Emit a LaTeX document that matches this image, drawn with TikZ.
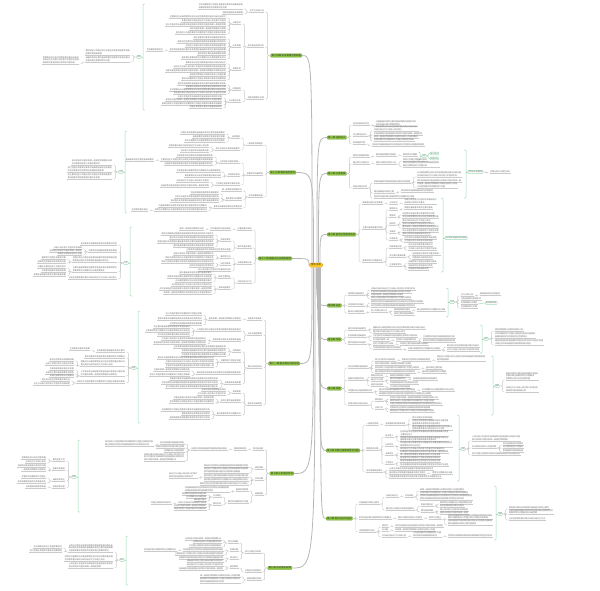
\documentclass[tikz,border=0pt]{standalone}
\usepackage{fontspec}
\usepackage{xstring}
\newfontfamily\cjk{Noto Sans CJK SC}
\definecolor{mmgreen}{HTML}{8CC63F}
\definecolor{mmyellow}{HTML}{FFCC1A}
\definecolor{mmorange}{HTML}{F2A01E}
\definecolor{mmmint}{HTML}{9FDDB7}
\definecolor{mmline}{HTML}{CACACA}
\definecolor{mmtext}{HTML}{6A6A6A}
\newcount\phk \newcount\pha \newcount\phb
\newcommand{\pool}{基本概念主要特征定义范围分类方法相互关系影响因素作用机制发展过程历史背景理论基础基本原则主要内容具体要求适用条件实施步骤注意事项常见问题解决办法典型案例比较分析区别联系重点难点归纳总结记忆方法核心观点意义价值评价标准结构功能组成部分表现形式基本规律一般规定特殊情形法律责任权利义务程序要求时间期限效力范围主体客体对象条件结果原因目的任务职能地位性质特点原理规则制度体系框架模式类型层次阶段环节途径手段措施方案计划组织管理控制协调监督检查考核评估反馈改进完善提高}
\newcommand{\ph}[1]{\global\advance\phk by 17\relax
  \ifnum\phk>180\relax\global\advance\phk by -179\relax\fi
  \pha=\phk\relax\phb=\numexpr\phk+#1-1\relax
  \StrMid{\pool}{\the\pha}{\the\phb}}
\newcommand{\tl}[4]{\path (#1) ++(-6,0) coordinate (tmp);
  \node[tp,anchor=south east] (#2) at (tmp |- 0,#3) {#4};
  \draw[ul] (#2.south west) -- (#2.south east);
  \draw[ln] (#1) -- ++(-3,0) |- (#2.south east);}
\newcommand{\tr}[4]{\path (#1) ++(6,0) coordinate (tmp);
  \node[tp,anchor=south west] (#2) at (tmp |- 0,#3) {#4};
  \draw[ul] (#2.south west) -- (#2.south east);
  \draw[ln] (#1) -- ++(3,0) |- (#2.south west);}
\newcommand{\brl}[5]{\draw[sumln] (#1+2,#2) -- (#1,#2) -- (#1,#3) -- (#1+2,#3);
  \coordinate (#5) at (#1,#4);}
\newcommand{\brr}[5]{\draw[sumln] (#1-2,#2) -- (#1,#2) -- (#1,#3) -- (#1-2,#3);
  \coordinate (#5) at (#1,#4);}

\begin{document}
\begin{tikzpicture}[x=1pt,y=-1pt,
  root/.style={fill=mmyellow,draw=mmorange,line width=0.5pt,rounded corners=1.5pt,inner xsep=1.5pt,inner ysep=0.8pt,text=black!80,font=\cjk\fontsize{2.6}{3}\selectfont},
  chap/.style={fill=mmgreen,draw=mmgreen!80!black,line width=0.2pt,rounded corners=0.8pt,inner xsep=1pt,inner ysep=0.6pt,text=black!80,font=\cjk\fontsize{2.4}{2.8}\selectfont},
  tp/.style={inner xsep=0.3pt,inner ysep=0.4pt,align=left,text=mmtext,font=\cjk\fontsize{2}{2.5}\selectfont},
  ln/.style={draw=mmline,line width=0.45pt,rounded corners=1.2pt},
  ul/.style={draw=mmline,line width=0.45pt},
  trunk/.style={draw=black!28,line width=0.8pt},
  sumbox/.style={draw=mmmint,fill=white,line width=0.4pt,rounded corners=0.8pt,inner sep=0.6pt,text=mmtext,font=\cjk\fontsize{1.8}{2.2}\selectfont},
  sumln/.style={draw=mmmint,line width=0.5pt,rounded corners=1pt}]
\useasboundingbox (0,0) rectangle (600,590);
\fill[white] (0,0) rectangle (600,590);

\node[root] (root) at (316,265) {\ph{4}};
\node[chap,anchor=east] (ch14) at (302,55.5) {第十四章 \ph{8}};
\node[chap,anchor=east] (ch13) at (296,172.5) {第十三章 \ph{6}};
\node[chap,anchor=east] (ch12) at (292,258.5) {第十二章 \ph{9}};
\node[chap,anchor=east] (ch11) at (300,363.5) {第十一章 \ph{8}};
\node[chap,anchor=east] (ch10) at (294,473.5) {第十章 \ph{6}};
\node[chap,anchor=east] (ch9) at (292,568) {第九章 \ph{6}};
\node[chap,anchor=west] (ch1) at (327,137.5) {第一章 \ph{4}};
\node[chap,anchor=west] (ch2) at (327,173.5) {第二章 \ph{4}};
\node[chap,anchor=west] (ch3) at (327,234.5) {第三章 \ph{8}};
\node[chap,anchor=west] (ch4) at (327,305.5) {第四章 \ph{2}};
\node[chap,anchor=west] (ch5) at (327,339.5) {第五章 \ph{2}};
\node[chap,anchor=west] (ch6) at (327,388.5) {第六章 \ph{2}};
\node[chap,anchor=west] (ch7) at (326,450.5) {第七章 \ph{10}};
\node[chap,anchor=west] (ch8) at (326,518.5) {第八章 \ph{7}};

\coordinate (t14) at ([xshift=-4]root.north);
\coordinate (t13) at ([xshift=-2.5]root.north);
\coordinate (t12) at (root.west);
\coordinate (t11) at ([xshift=-4]root.south);
\coordinate (t10) at ([xshift=-2.5]root.south);
\coordinate (t9) at ([xshift=-1]root.south);
\coordinate (t1) at ([xshift=1]root.north);
\coordinate (t2) at ([xshift=2.5]root.north);
\coordinate (t3) at ([xshift=4]root.north);
\coordinate (t4) at ([xshift=0.5]root.south);
\coordinate (t5) at ([xshift=1.5]root.south);
\coordinate (t6) at ([xshift=2.5]root.south);
\coordinate (t7) at ([xshift=3.5]root.south);
\coordinate (t8) at ([xshift=4.5]root.south);
\foreach \c/\s in {ch14/t14,ch13/t13,ch12/t12,ch11/t11,ch10/t10,ch9/t9}
  \draw[trunk] (\s) .. controls (\s |- \c.east) .. (\c.east);
\foreach \c/\s in {ch1/t1,ch2/t2,ch3/t3,ch4/t4,ch5/t5,ch6/t6,ch7/t7,ch8/t8}
  \draw[trunk] (\s) .. controls (\s |- \c.west) .. (\c.west);

% chapter 14
\tl{ch14.west}{d14a}{12}{\ph{7}}
\tl{ch14.west}{d14b}{47}{\ph{8}}
\tl{ch14.west}{d14c}{99}{\ph{8}}
\tl{d14a.south west}{d14a1}{9}{\ph{22}\\\ph{14}}
\tl{d14a.south west}{d14a2}{14}{\ph{10}}
\tl{d14b.south west}{d14b1}{24}{\ph{4}}
\tl{d14b.south west}{d14b2}{47}{\ph{4}}
\tl{d14b.south west}{d14b3}{70}{\ph{4}}
\foreach \y/\n [count=\k] in {18/28,22/22,26/30,30/18,34/25}
  {\tl{d14b1.south west}{d14b1-\k}{\y}{\ph{\n}}}
\foreach \y/\n [count=\k] in {39/16,43/24,47/20,51/28,55/14,59/22}
  {\tl{d14b2.south west}{d14b2-\k}{\y}{\ph{\n}}}
\foreach \y/\n [count=\k] in {64/20,68/26,72/30,76/18,80/22}
  {\tl{d14b3.south west}{d14b3-\k}{\y}{\ph{\n}}}
\tl{d14b2-4.south west}{d14b4}{51}{\ph{8}}
\tl{d14c.south west}{d14c1}{90}{\ph{4}}
\tl{d14c.south west}{d14c2}{102}{\ph{6}}
\foreach \y/\n [count=\k] in {85/24,88/20,91/28,94/26}
  {\tl{d14c1.south west}{d14c1-\k}{\y}{\ph{\n}}}
\foreach \y/\n [count=\k] in {98/22,101/28,105/30,108/16}
  {\tl{d14c2.south west}{d14c2-\k}{\y}{\ph{\n}}}
\brl{143}{4}{110}{57}{m14}
\node[sumbox,anchor=east] (s14) at ([xshift=-1.5]m14) {\ph{2}};
\draw[sumln] (m14) -- (s14.east);
\tl{s14.west}{s14a}{55}{\ph{22}\\\ph{8}}
\tl{s14.west}{s14b}{62}{\ph{22}\\\ph{12}}
\tl{s14b.south west}{s14c}{64}{\ph{18}\\\ph{18}\\\ph{16}}

% chapter 13
\tl{ch13.west}{d13a}{145}{\ph{8}}
\tl{ch13.west}{d13b}{175}{\ph{8}}
\tl{ch13.west}{d13c}{197}{\ph{7}}
\tl{d13a.south west}{d13a1}{138}{\ph{4}}
\tl{d13a.south west}{d13a2}{150}{\ph{12}}
\foreach \y/\n [count=\k] in {134/22,138/16,142/20}
  {\tl{d13a1.south west}{d13a1-\k}{\y}{\ph{\n}}}
\foreach \y/\n [count=\k] in {147/20,152/14}
  {\tl{d13a2.south west}{d13a2-\k}{\y}{\ph{\n}}}
\tl{d13b.south west}{d13b1}{163}{\ph{10}}
\tl{d13b.south west}{d13b2}{176}{\ph{6}}
\tl{d13b.south west}{d13b3}{185}{\ph{12}}
\foreach \y/\n [count=\k] in {157/18,161/26,165/24}
  {\tl{d13b1.south west}{d13b1-\k}{\y}{\ph{\n}}}
\tl{d13b1-2.south west}{d13b4}{161}{\ph{14}}
\foreach \y/\n [count=\k] in {172/22,177/18}
  {\tl{d13b2.south west}{d13b2-\k}{\y}{\ph{\n}}}
\foreach \y/\n [count=\k] in {182/16,187/24}
  {\tl{d13b3.south west}{d13b3-\k}{\y}{\ph{\n}}}
\tl{d13c.south west}{d13c1}{191}{\ph{10}}
\tl{d13c.south west}{d13c2}{200}{\ph{8}}
\tl{d13c.south west}{d13c3}{208}{\ph{14}}
\foreach \y/\n [count=\k] in {194/14,198/22,202/24}
  {\tl{d13c2.south west}{d13c2-\k}{\y}{\ph{\n}}}
\foreach \y/\n [count=\k] in {207/24,211/26}
  {\tl{d13c3.south west}{d13c3-\k}{\y}{\ph{\n}}}
\tl{d13c3-2.south west}{d13c4}{211}{\ph{8}}
\brl{125}{131}{213}{172}{m13}
\node[sumbox,anchor=east] (s13) at ([xshift=-1.5]m13) {\ph{2}};
\draw[sumln] (m13) -- (s13.east);
\tl{s13.west}{s13a}{165}{\ph{20}\\\ph{14}}
\tl{s13.west}{s13b}{172}{\ph{22}\\\ph{18}}
\tl{s13.west}{s13c}{179}{\ph{22}\\\ph{16}}

% chapter 12
\tl{ch12.west}{d12a}{230}{\ph{7}}
\tl{ch12.west}{d12b}{248}{\ph{7}}
\tl{ch12.west}{d12c}{264}{\ph{7}}
\tl{ch12.west}{d12d}{283}{\ph{7}}
\tl{d12a.south west}{d12a1}{230}{\ph{10}}
\tl{d12a1.south west}{d12a2}{230}{\ph{12}}
\tl{d12b.south west}{d12b1}{241}{\ph{5}}
\tl{d12b.south west}{d12b2}{251}{\ph{22}}
\foreach \y/\n [count=\k] in {235/26,239/22,243/28,247/20}
  {\tl{d12b1.south west}{d12b1-\k}{\y}{\ph{\n}}}
\tl{d12c.south west}{d12c1}{258}{\ph{5}}
\tl{d12c.south west}{d12c2}{265}{\ph{5}}
\tl{d12c.south west}{d12c3}{271}{\ph{16}}
\foreach \y/\n [count=\k] in {255/20,259/24}
  {\tl{d12c1.south west}{d12c1-\k}{\y}{\ph{\n}}}
\foreach \y/\n [count=\k] in {263/26,267/12}
  {\tl{d12c2.south west}{d12c2-\k}{\y}{\ph{\n}}}
\tl{d12d.south west}{d12d1}{278}{\ph{6}}
\tl{d12d.south west}{d12d2}{289}{\ph{6}}
\foreach \y/\n [count=\k] in {274/16,278/22,282/18}
  {\tl{d12d1.south west}{d12d1-\k}{\y}{\ph{\n}}}
\foreach \y/\n [count=\k] in {286/20,290/26,294/24}
  {\tl{d12d2.south west}{d12d2-\k}{\y}{\ph{\n}}}
\brl{130}{227}{296}{263}{m12}
\node[sumbox,anchor=east] (s12) at ([xshift=-1.5]m12) {\ph{2}};
\draw[sumln] (m12) -- (s12.east);
\tl{s12.west}{s12a}{245}{\ph{18}}
\tl{s12.west}{s12b}{252}{\ph{14}}
\tl{s12.west}{s12c}{262}{\ph{22}\\\ph{18}}
\tl{s12.west}{s12d}{272}{\ph{22}\\\ph{16}}
\tl{s12.west}{s12e}{279}{\ph{24}}
\foreach \y/\n [count=\k] in {249/14,252/16,255/12}
  {\tl{s12b.south west}{s12b-\k}{\y}{\ph{\n}}}
\foreach \y/\n [count=\k] in {259/12,263/14}
  {\tl{s12c.south west}{s12c-\k}{\y}{\ph{\n}}}
\foreach \y/\n [count=\k] in {268/14,272/12,276/16}
  {\tl{s12d.south west}{s12d-\k}{\y}{\ph{\n}}}

% chapter 11
\tl{ch11.west}{d11a}{320}{\ph{7}}
\tl{ch11.west}{d11b}{335}{\ph{7}}
\tl{ch11.west}{d11c}{368}{\ph{7}}
\tl{ch11.west}{d11d}{405}{\ph{7}}
\tl{d11a.south west}{d11a1}{320}{\ph{16}}
\foreach \y/\n [count=\k] in {315/18,320/22,325/16}
  {\tl{d11a1.south west}{d11a1-\k}{\y}{\ph{\n}}}
\tl{d11b.south west}{d11b1}{331}{\ph{22}}
\tl{d11b.south west}{d11b2}{341}{\ph{14}}
\foreach \y/\n [count=\k] in {328/18,332/22,336/16}
  {\tl{d11b1.south west}{d11b1-\k}{\y}{\ph{\n}}}
\foreach \y/\n [count=\k] in {340/22,344/26}
  {\tl{d11b2.south west}{d11b2-\k}{\y}{\ph{\n}}}
\tl{d11c.south west}{d11c1}{352}{\ph{4}}
\tl{d11c.south west}{d11c2}{362}{\ph{10}}
\tl{d11c.south west}{d11c3}{374}{\ph{22}}
\tl{d11c.south west}{d11c4}{384}{\ph{8}}
\foreach \y/\n [count=\k] in {348/26,352/22,356/22}
  {\tl{d11c1.south west}{d11c1-\k}{\y}{\ph{\n}}}
\foreach \y/\n [count=\k] in {359/28,363/24,367/24}
  {\tl{d11c2.south west}{d11c2-\k}{\y}{\ph{\n}}}
\foreach \y/\n [count=\k] in {371/18,376/20}
  {\tl{d11c3.south west}{d11c3-\k}{\y}{\ph{\n}}}
\foreach \y/\n [count=\k] in {380/24,384/28,388/26}
  {\tl{d11c4.south west}{d11c4-\k}{\y}{\ph{\n}}}
\tl{d11d.south west}{d11d1}{393}{\ph{4}}
\tl{d11d.south west}{d11d2}{402}{\ph{10}}
\tl{d11d.south west}{d11d3}{415}{\ph{12}}
\foreach \y/\n [count=\k] in {391/12,395/14}
  {\tl{d11d1.south west}{d11d1-\k}{\y}{\ph{\n}}}
\foreach \y/\n [count=\k] in {399/20,403/22}
  {\tl{d11d2.south west}{d11d2-\k}{\y}{\ph{\n}}}
\foreach \y/\n [count=\k] in {411/24,415/14,419/20}
  {\tl{d11d3.south west}{d11d3-\k}{\y}{\ph{\n}}}
\brl{138}{311}{423}{368}{m11}
\node[sumbox,anchor=east] (s11) at ([xshift=-1.5]m11) {\ph{2}};
\draw[sumln] (m11) -- (s11.east);
\tl{s11.west}{s11a}{352}{\ph{14}}
\tl{s11.west}{s11b}{358}{\ph{20}}
\tl{s11.west}{s11c}{366}{\ph{22}\\\ph{16}}
\tl{s11.west}{s11d}{376}{\ph{22}\\\ph{18}}
\tl{s11.west}{s11e}{383}{\ph{24}}
\tl{s11a.south west}{s11a1}{350}{\ph{10}}
\foreach \y/\n [count=\k] in {361/12,365/14}
  {\tl{s11c.south west}{s11c-\k}{\y}{\ph{\n}}}
\foreach \y/\n [count=\k] in {370/12,374/14,377/12}
  {\tl{s11d.south west}{s11d-\k}{\y}{\ph{\n}}}
\foreach \y/\n [count=\k] in {381/14,385/18}
  {\tl{s11e.south west}{s11e-\k}{\y}{\ph{\n}}}

% chapter 10
\tl{ch10.west}{d10a}{450}{\ph{5}}
\tl{ch10.west}{d10b}{469}{\ph{4}}
\tl{ch10.west}{d10c}{480}{\ph{4}}
\tl{ch10.west}{d10d}{495}{\ph{4}}
\tl{d10a.south west}{d10a1}{450}{\ph{6}}
\tl{d10a1.south west}{d10a2}{450}{\ph{18}}
\foreach \y/\n [count=\k] in {444/12,448/14,452/10}
  {\tl{d10a2.south west}{d10a2-\k}{\y}{\ph{\n}}}
\tl{d10a2.south west}{d10a3}{461}{\ph{20}\\\ph{20}\\\ph{16}}
\tl{d10a2-1.south west}{d10a4}{446}{\ph{24}\\\ph{22}}
\tl{d10b.south west}{d10b1}{467}{\ph{22}}
\tl{d10b.south west}{d10b2}{473}{\ph{22}\\\ph{18}}
\foreach \y/\n [count=\k] in {477/22,481/22,485/24}
  {\tl{d10c.south west}{d10c-\k}{\y}{\ph{\n}}}
\tl{d10c-1.south west}{d10c1}{478}{\ph{14}\\\ph{12}}
\tl{d10d.south west}{d10d1}{491}{\ph{6}}
\tl{d10d.south west}{d10d2}{503}{\ph{10}}
\tl{d10d1.south west}{d10d3}{492}{\ph{22}\\\ph{14}}
\tl{d10d2.south west}{d10d4}{497}{\ph{4}}
\tl{d10d2.south west}{d10d5}{505}{\ph{4}}
\foreach \y/\n [count=\k] in {495/12,498/10,501/6}
  {\tl{d10d4.south west}{d10d4-\k}{\y}{\ph{\n}}}
\foreach \y/\n [count=\k] in {504/14,507/16,510/16}
  {\tl{d10d5.south west}{d10d5-\k}{\y}{\ph{\n}}}
\tl{d10d5-1.south west}{d10d6}{504}{\ph{10}}
\brl{78}{440}{512}{477}{m10}
\node[sumbox,anchor=east] (s10) at ([xshift=-1.5]m10) {\ph{2}};
\draw[sumln] (m10) -- (s10.east);
\tl{s10.west}{s10a}{461}{\ph{6}}
\tl{s10.west}{s10b}{470}{\ph{6}}
\tl{s10.west}{s10c}{481}{\ph{6}}
\tl{s10.west}{s10d}{488}{\ph{6}}
\foreach \y/\n [count=\k] in {459/12,463/10}
  {\tl{s10a.south west}{s10a-\k}{\y}{\ph{\n}}}
\foreach \y/\n [count=\k] in {467/14,471/12}
  {\tl{s10b.south west}{s10b-\k}{\y}{\ph{\n}}}
\foreach \y/\n [count=\k] in {478/12,483/14}
  {\tl{s10c.south west}{s10c-\k}{\y}{\ph{\n}}}
\tl{s10d.south west}{s10d1}{488}{\ph{10}}

% chapter 9
\tl{ch9.west}{d9a}{553}{\ph{8}}
\tl{ch9.west}{d9b}{572}{\ph{8}}
\tl{ch9.west}{d9c}{580}{\ph{7}}
\tl{d9a.south west}{d9a1}{543}{\ph{5}}
\tl{d9a.south west}{d9a2}{551}{\ph{4}}
\tl{d9a.south west}{d9a3}{559}{\ph{4}}
\foreach \y/\n [count=\k] in {540/18,543/14,547/16}
  {\tl{d9a1.south west}{d9a1-\k}{\y}{\ph{\n}}}
\foreach \y/\n [count=\k] in {551/20,555/24}
  {\tl{d9a2.south west}{d9a2-\k}{\y}{\ph{\n}}}
\foreach \y/\n [count=\k] in {559/22,562/18}
  {\tl{d9a3.south west}{d9a3-\k}{\y}{\ph{\n}}}
\tl{d9a2-1.south west}{d9a4}{551}{\ph{16}}
\tl{d9b.south west}{d9b1}{568}{\ph{4}}
\foreach \y/\n [count=\k] in {566/18,570/22}
  {\tl{d9b1.south west}{d9b1-\k}{\y}{\ph{\n}}}
\tl{d9c.south west}{d9c1}{577}{\ph{20}}
\tl{d9c.south west}{d9c2}{583}{\ph{20}\\\ph{12}}
\brl{126}{536}{585}{560}{m9}
\node[sumbox,anchor=east] (s9) at ([xshift=-1.5]m9) {\ph{2}};
\draw[sumln] (m9) -- (s9.east);
\tl{s9.west}{s9a}{552}{\ph{22}\\\ph{22}\\\ph{20}}
\tl{s9.west}{s9b}{561}{\ph{24}\\\ph{20}}
\tl{s9.west}{s9c}{568}{\ph{22}\\\ph{16}}
\foreach \y/\n [count=\k] in {548/14,552/16}
  {\tl{s9a.south west}{s9a-\k}{\y}{\ph{\n}}}

% chapter 1
\tr{ch1.east}{e1a}{125}{\ph{8}}
\tr{ch1.east}{e1b}{136}{\ph{7}}
\tr{ch1.east}{e1c}{144}{\ph{6}}
\tr{e1a.south east}{e1a1}{126}{\ph{20}\\\ph{12}}
\tr{e1b.south east}{e1b1}{131}{\ph{22}\\\ph{14}}
\foreach \y/\n [count=\k] in {135/24,138/22,141/20}
  {\tr{e1b.south east}{e1b-\k}{\y}{\ph{\n}}}
\tr{e1c.south east}{e1c1}{146}{\ph{26}}

% chapter 2
\tr{ch2.east}{e2a}{157}{\ph{8}}
\tr{ch2.east}{e2b}{164}{\ph{8}}
\tr{ch2.east}{e2c}{188}{\ph{7}}
\tr{e2a.south east}{e2a1}{156}{\ph{10}}
\tr{e2a1.south east}{e2a2}{156}{\ph{7}}
\brr{420}{152}{160}{156}{m2a}
\node[sumbox,anchor=west] (s2a) at ([xshift=1.5]m2a) {\ph{2}};
\draw[sumln] (m2a) -- (s2a.west);
\node[sumbox,anchor=west] (s2b) at (430,153.5) {\ph{4}};
\node[sumbox,anchor=west] (s2c) at (430,158.5) {\ph{4}};
\draw[sumln] (s2a.east) -- ++(1.5,0) |- (s2b.west);
\draw[sumln] (s2a.east) -- ++(1.5,0) |- (s2c.west);
\tr{e2b.south east}{e2b1}{164}{\ph{10}}
\tr{e2b1.south east}{e2b2}{161}{\ph{12}}
\tr{e2b1.south east}{e2b3}{167}{\ph{18}\\\ph{12}}
\tr{e2c.south east}{e2c1}{183}{\ph{18}}
\tr{e2c.south east}{e2c2}{193}{\ph{10}}
\tr{e2c.south east}{e2c3}{198}{\ph{20}}
\tr{e2c1.south east}{e2c4}{177}{\ph{22}\\\ph{20}}
\tr{e2c1.south east}{e2c5}{182}{\ph{22}}
\tr{e2c1.south east}{e2c6}{188}{\ph{20}\\\ph{14}}
\tr{e2c2.south east}{e2c7}{192}{\ph{16}}
\brr{466}{150}{198}{172}{m2}
\node[sumbox,anchor=west] (s2) at ([xshift=1.5]m2) {\ph{8}};
\draw[sumln] (m2) -- (s2.west);
\tr{s2.east}{s2d}{173}{\ph{10}}

% chapter 3
\tr{ch3.east}{e3a}{204}{\ph{10}}
\tr{ch3.east}{e3b}{229}{\ph{10}}
\tr{ch3.east}{e3c}{262}{\ph{10}}
\tr{e3a.south east}{e3a1}{204}{\ph{4}}
\tr{e3a1.south east}{e3a2}{204}{\ph{16}\\\ph{10}}
\tr{e3b.south east}{e3b1}{210}{\ph{4}}
\tr{e3b.south east}{e3b2}{217}{\ph{3}}
\tr{e3b.south east}{e3b3}{225}{\ph{3}}
\tr{e3b.south east}{e3b4}{233}{\ph{3}}
\tr{e3b.south east}{e3b5}{240}{\ph{4}}
\tr{e3b1.south east}{e3b1-1}{209}{\ph{14}}
\foreach \y/\n [count=\k] in {215/16,218/18}
  {\tr{e3b2.south east}{e3b2-\k}{\y}{\ph{\n}}}
\foreach \y/\n [count=\k] in {222/14,225/16,228/18}
  {\tr{e3b3.south east}{e3b3-\k}{\y}{\ph{\n}}}
\foreach \y/\n [count=\k] in {232/18,235/14}
  {\tr{e3b4.south east}{e3b4-\k}{\y}{\ph{\n}}}
\foreach \y/\n [count=\k] in {239/16,242/14}
  {\tr{e3b5.south east}{e3b5-\k}{\y}{\ph{\n}}}
\tr{e3c.south east}{e3c1}{248}{\ph{6}}
\tr{e3c.south east}{e3c2}{257}{\ph{8}}
\tr{e3c.south east}{e3c3}{266}{\ph{6}}
\foreach \y/\n [count=\k] in {246/12,250/14}
  {\tr{e3c1.south east}{e3c1-\k}{\y}{\ph{\n}}}
\foreach \y/\n [count=\k] in {255/14,259/10}
  {\tr{e3c2.south east}{e3c2-\k}{\y}{\ph{\n}}}
\foreach \y/\n [count=\k] in {263/14,267/12,270/10}
  {\tr{e3c3.south east}{e3c3-\k}{\y}{\ph{\n}}}
\brr{443}{198}{272}{238}{m3}
\node[sumbox,anchor=west] (s3) at ([xshift=1.5]m3) {\ph{12}};
\draw[sumln] (m3) -- (s3.west);

% chapter 4
\tr{ch4.east}{e4a}{295}{\ph{8}}
\tr{ch4.east}{e4b}{306}{\ph{8}}
\tr{ch4.east}{e4c}{313}{\ph{8}}
\foreach \y/\n [count=\k] in {290/22,293/20,296/16,299/20}
  {\tr{e4a.south east}{e4a-\k}{\y}{\ph{\n}}}
\foreach \y/\n [count=\k] in {303/26,307/22}
  {\tr{e4b.south east}{e4b-\k}{\y}{\ph{\n}}}
\tr{e4c.south east}{e4c1}{312}{\ph{8}}
\foreach \y/\n [count=\k] in {311/8,315/10}
  {\tr{e4c1.south east}{e4c1-\k}{\y}{\ph{\n}}}
\tr{e4c1-1.south east}{e4c2}{311}{\ph{14}}
\brr{448}{288}{317}{302}{m4}
\node[sumbox,anchor=west] (s4) at ([xshift=1.5]m4) {\ph{2}};
\draw[sumln] (m4) -- (s4.west);
\tr{s4.east}{s4a}{296}{\ph{6}}
\tr{s4.east}{s4b}{300}{\ph{10}}
\tr{s4.east}{s4c}{304}{\ph{8}}
\tr{s4.east}{s4d}{308}{\ph{8}}
\tr{s4a.south east}{s4a1}{295}{\ph{10}}
\node[sumbox,anchor=west] (s4e) at (485,303) {\ph{6}};
\draw[sumln] (s4c.south east) -- (s4e.west);

% chapter 5
\tr{ch5.east}{e5a}{330}{\ph{9}}
\tr{ch5.east}{e5b}{337}{\ph{9}}
\tr{ch5.east}{e5c}{344}{\ph{9}}
\foreach \y/\n [count=\k] in {329/26,333/16}
  {\tr{e5a.south east}{e5a-\k}{\y}{\ph{\n}}}
\tr{e5b.south east}{e5b1}{337}{\ph{22}}
\tr{e5b.south east}{e5b2}{341}{\ph{8}}
\tr{e5b2.south east}{e5b3}{341}{\ph{10}}
\foreach \y/\n [count=\k] in {338/16,342/16}
  {\tr{e5b3.south east}{e5b3-\k}{\y}{\ph{\n}}}
\tr{e5c.south east}{e5c1}{345}{\ph{10}}
\tr{e5c.south east}{e5c2}{349}{\ph{14}}
\tr{e5c1.south east}{e5c3}{345}{\ph{14}}
\tr{e5c2.south east}{e5c4}{350}{\ph{16}}
\foreach \y/\n [count=\k] in {347/16,351/16}
  {\tr{e5c4.south east}{e5c4-\k}{\y}{\ph{\n}}}
\brr{482}{325}{353}{339}{m5}
\node[sumbox,anchor=west] (s5) at ([xshift=1.5]m5) {\ph{2}};
\draw[sumln] (m5) -- (s5.west);
\tr{s5.east}{s5a}{331}{\ph{14}}
\tr{s5.east}{s5b}{338}{\ph{20}\\\ph{16}}
\tr{s5.east}{s5c}{345}{\ph{24}\\\ph{18}}

% chapter 6
\tr{ch6.east}{e6a}{368}{\ph{10}}
\tr{ch6.east}{e6b}{380}{\ph{8}}
\tr{ch6.east}{e6c}{392}{\ph{12}}
\tr{ch6.east}{e6d}{405}{\ph{10}}
\tr{e6a.south east}{e6a1}{361}{\ph{10}}
\tr{e6a.south east}{e6a2}{365}{\ph{18}}
\tr{e6a.south east}{e6a3}{369}{\ph{22}}
\tr{e6a.south east}{e6a4}{373}{\ph{20}}
\tr{e6a1.south east}{e6a5}{361}{\ph{14}}
\tr{e6a5.south east}{e6a6}{361}{\ph{24}\\\ph{6}}
\tr{e6a3.south east}{e6a7}{369}{\ph{8}}
\tr{e6a4.south east}{e6a8}{373}{\ph{12}}
\tr{e6b.south east}{e6b1}{377}{\ph{6}}
\tr{e6b.south east}{e6b2}{381}{\ph{6}}
\tr{e6b.south east}{e6b3}{386}{\ph{6}}
\tr{e6b1.south east}{e6b1-1}{377}{\ph{10}}
\foreach \y/\n [count=\k] in {380/8,384/14}
  {\tr{e6b2.south east}{e6b2-\k}{\y}{\ph{\n}}}
\tr{e6b2-1.south east}{e6b4}{380}{\ph{12}}
\tr{e6b3.south east}{e6b3-1}{388}{\ph{10}}
\tr{e6c.south east}{e6c1}{391}{\ph{18}}
\tr{e6c.south east}{e6c2}{395}{\ph{26}}
\tr{e6c1.south east}{e6c3}{391}{\ph{16}}
\tr{e6d.south east}{e6d1}{401}{\ph{4}}
\tr{e6d.south east}{e6d2}{409}{\ph{4}}
\foreach \y/\n [count=\k] in {399/24,402/22,405/26}
  {\tr{e6d1.south east}{e6d1-\k}{\y}{\ph{\n}}}
\foreach \y/\n [count=\k] in {409/20,412/22}
  {\tr{e6d2.south east}{e6d2-\k}{\y}{\ph{\n}}}
\brr{493}{356}{415}{386}{m6}
\node[sumbox,anchor=west] (s6) at ([xshift=1.5]m6) {\ph{2}};
\draw[sumln] (m6) -- (s6.west);
\tr{s6.east}{s6a}{380}{\ph{16}\\\ph{14}\\\ph{12}}
\tr{s6.east}{s6b}{392}{\ph{16}\\\ph{10}}

% chapter 7
\tr{ch7.east}{e7a}{425}{\ph{6}}
\tr{ch7.east}{e7b}{450}{\ph{6}}
\tr{ch7.east}{e7c}{472}{\ph{8}}
\tr{e7a.south east}{e7a1}{425}{\ph{10}}
\tr{e7a1.south east}{e7a2}{419}{\ph{10}}
\tr{e7a1.south east}{e7a3}{425}{\ph{18}\\\ph{14}}
\tr{e7a1.south east}{e7a4}{430.5}{\ph{20}\\\ph{16}}
\tr{e7b.south east}{e7b1}{437}{\ph{4}}
\tr{e7b.south east}{e7b2}{446}{\ph{4}}
\tr{e7b.south east}{e7b3}{455}{\ph{4}}
\tr{e7b.south east}{e7b4}{464}{\ph{4}}
\tr{e7b1.south east}{e7b5}{436}{\ph{24}\\\ph{6}}
\tr{e7b1.south east}{e7b6}{441.5}{\ph{24}\\\ph{18}}
\tr{e7b2.south east}{e7b7}{447}{\ph{26}\\\ph{10}}
\tr{e7b2.south east}{e7b8}{450}{\ph{22}}
\foreach \y/\n [count=\k] in {453/24,456/20,459/20}
  {\tr{e7b3.south east}{e7b3-\k}{\y}{\ph{\n}}}
\foreach \y/\n [count=\k] in {462.5/20,466/24}
  {\tr{e7b4.south east}{e7b4-\k}{\y}{\ph{\n}}}
\foreach \y/\n [count=\k] in {470/22,474/18,478/26}
  {\tr{e7c.south east}{e7c-\k}{\y}{\ph{\n}}}
\tr{e7c-2.south east}{e7c1}{474}{\ph{10}}
\brr{459}{415}{481}{449}{m7}
\node[sumbox,anchor=west] (s7) at ([xshift=1.5]m7) {\ph{2}};
\draw[sumln] (m7) -- (s7.west);
\tr{s7.east}{s7a}{441}{\ph{24}\\\ph{18}}
\tr{s7.east}{s7b}{448}{\ph{12}}
\tr{s7.east}{s7c}{455}{\ph{24}}
\foreach \y/\n [count=\k] in {445/10,448.5/10,452/10}
  {\tr{s7b.south east}{s7b-\k}{\y}{\ph{\n}}}

% chapter 8
\tr{ch8.east}{e8a}{504}{\ph{10}}
\tr{ch8.east}{e8b}{519}{\ph{16}}
\tr{ch8.east}{e8c}{532}{\ph{8}}
\tr{e8a.south east}{e8a1}{497}{\ph{6}}
\tr{e8a1.south east}{e8a2}{497}{\ph{4}}
\tr{e8a2.south east}{e8a3}{491}{\ph{22}}
\tr{e8a2.south east}{e8a4}{494.5}{\ph{24}}
\tr{e8a2.south east}{e8a5}{500}{\ph{26}\\\ph{22}}
\tr{e8a.south east}{e8a6}{510}{\ph{14}}
\tr{e8a6.south east}{e8a7}{506}{\ph{6}}
\tr{e8a6.south east}{e8a8}{512}{\ph{6}}
\foreach \y/\n [count=\k] in {504/16,507.5/12}
  {\tr{e8a7.south east}{e8a7-\k}{\y}{\ph{\n}}}
\foreach \y/\n [count=\k] in {511/14,514/14}
  {\tr{e8a8.south east}{e8a8-\k}{\y}{\ph{\n}}}
\tr{e8b.south east}{e8b1}{519}{\ph{12}}
\tr{e8b1.south east}{e8b2}{519}{\ph{6}}
\tr{e8b2.south east}{e8b3}{519.5}{\ph{22}\\\ph{20}}
\tr{e8b2.south east}{e8b4}{525}{\ph{22}\\\ph{14}}
\tr{e8c.south east}{e8c1}{527}{\ph{3}}
\tr{e8c.south east}{e8c2}{531}{\ph{3}}
\tr{e8c.south east}{e8c3}{537}{\ph{12}}
\tr{e8c1.south east}{e8c1-1}{527}{\ph{24}}
\tr{e8c2.south east}{e8c2-1}{531}{\ph{20}}
\tr{e8c3.south east}{e8c4}{537}{\ph{14}\\\ph{12}}
\tr{e8c4.south east}{e8c5}{537}{\ph{22}}
\brr{496}{486}{540}{514}{m8}
\node[sumbox,anchor=west] (s8) at ([xshift=1.5]m8) {\ph{2}};
\draw[sumln] (m8) -- (s8.west);
\tr{s8.east}{s8a}{509}{\ph{20}}
\tr{s8.east}{s8b}{514.5}{\ph{22}\\\ph{14}}
\tr{s8.east}{s8c}{520}{\ph{18}}
\end{tikzpicture}
\end{document}
